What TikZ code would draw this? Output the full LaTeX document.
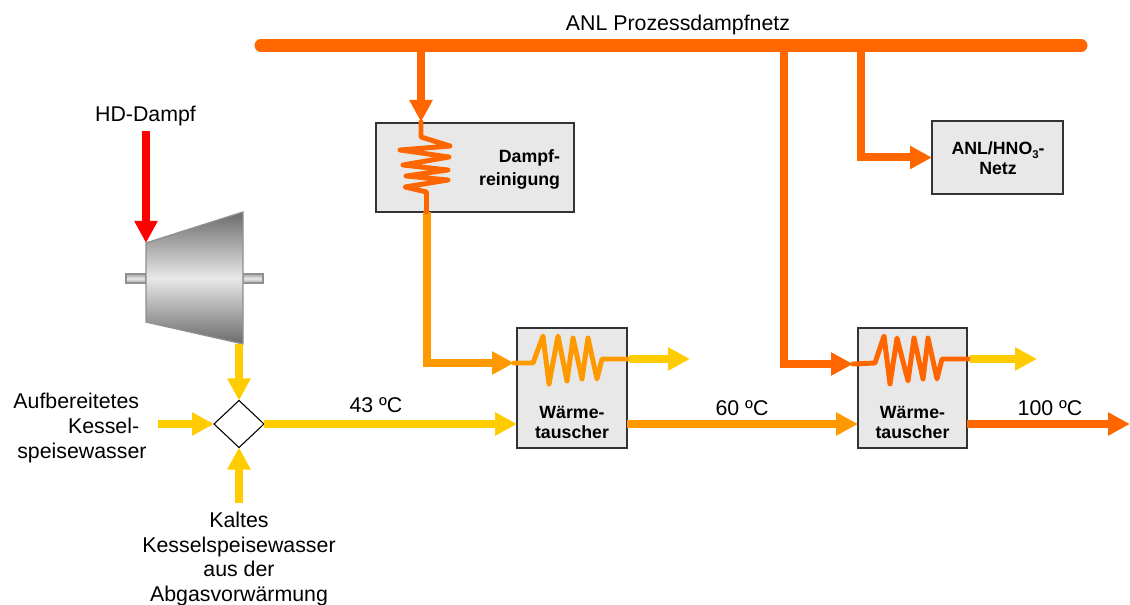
\documentclass[tikz,border=0pt]{standalone}
\usepackage{fontspec}
\setmainfont{Liberation Sans}
\usetikzlibrary{arrows.meta,shapes.geometric,calc}
\definecolor{hot}{HTML}{FF6600}
\definecolor{warm}{HTML}{FF9900}
\definecolor{cold}{HTML}{FFCC00}
\definecolor{boxfill}{HTML}{E8E8E8}
\definecolor{turbedge}{HTML}{909090}
\tikzset{
  pipe/.style={line width=6pt,-{Triangle[length=16.5pt,width=16.5pt]}},
  coilline/.style={line width=3.7pt,line join=round,line cap=round},
  unit/.style={draw=black!80,line width=.8pt,fill=boxfill,inner sep=0pt,outer sep=0pt},
  lbl/.style={font=\fontsize{16}{18.75}\selectfont,inner sep=0pt,outer sep=0pt},
  blbl/.style={font=\fontsize{13.3}{15.4}\selectfont\bfseries,inner sep=0pt,outer sep=0pt,text=black},
  shaft/.style={draw=turbedge,line width=.8pt,top color=turbedge!80,bottom color=turbedge!80,middle color=boxfill}
}
\begin{document}
\begin{tikzpicture}[x=0.75pt,y=-0.75pt]
\useasboundingbox (0,0) rectangle (1130,605);
% junction points
\coordinate (barL) at (261,45.5);
\coordinate (barR) at (1081,45.5);
\coordinate (b1) at (421,45.5);
\coordinate (b2) at (784,45.5);
\coordinate (b3) at (861,45.5);
\coordinate (c2in) at (853,364);
\coordinate (c1in) at (514,363);
\coordinate (c1out) at (628,359);
\coordinate (c2out) at (969,359);
\coordinate (o1) at (690,359);
\coordinate (o2) at (1037,359);
\coordinate (d0) at (421,122);
\coordinate (d1) at (426.5,212);
\coordinate (hdtop) at (146,131);
\coordinate (turbin) at (146,243);
\coordinate (turbout) at (239,344);
\coordinate (leftin) at (158,424);
\coordinate (botin) at (239,503);
\coordinate (end100) at (1130,424);
% boxes
\node[unit,minimum width=148.5pt,minimum height=66.75pt] (dr) at (475,167.5) {};
\node[unit,minimum width=98.25pt,minimum height=54.75pt] (anl) at (997.5,157.5) {};
\node[unit,minimum width=82.5pt,minimum height=90pt] (hx1) at (572,388) {};
\node[unit,minimum width=81.75pt,minimum height=90pt] (hx2) at (912.5,388) {};
\node[draw=black,line width=.8pt,fill=white,diamond,aspect=1,inner sep=0pt,outer sep=0pt,minimum width=37.5pt,minimum height=35.25pt] (mix) at (239,424) {};
% turbine
\draw[shaft] (126,274) rectangle (146,283);
\draw[shaft] (243,274) rectangle (263,283);
\draw[draw=turbedge,line width=1pt,top color=black!58,bottom color=black!58,middle color=boxfill] (146,243) -- (243,212) -- (243,344) -- (146,322) -- cycle;
% steam net
\draw[hot,line width=9.75pt,line cap=round] (barL) -- (barR);
\draw[pipe,hot] (b1) -- (d0);
\draw[pipe,hot] (b2) |- (c2in);
\draw[pipe,hot] (b3) |- (anl.west);
\draw[pipe,warm] (d1) |- (c1in);
% coils
\draw[coilline,hot] (d0) -- (421,137) -- (450,146) -- (400,150) -- (449,157) -- (403,165) -- (448,170) -- (406,176) -- (448,180) -- (405,187) -- (426.5,192) -- (d1);
\draw[coilline,warm] (c1in) -- (533,363) -- (543,336) -- (549,384) -- (558,336) -- (567,381) -- (573,338) -- (582,379) -- (588,338) -- (597,379) -- (602,359) -- (c1out);
\draw[coilline,hot] (c2in) -- (875,363) -- (884,336) -- (890,384) -- (897,338) -- (908,381) -- (914,338) -- (923,379) -- (928,338) -- (937,379) -- (942,359) -- (c2out);
% outlets
\draw[pipe,cold] (c1out) ++(1,0) -- (o1);
\draw[pipe,cold] (c2out) ++(1,0) -- (o2);
% feed water
\draw[pipe,red] (hdtop) -- (turbin);
\draw[pipe,cold] (turbout) -- (mix.north);
\draw[pipe,cold] (leftin) -- (mix.west);
\draw[pipe,cold] (botin) -- (mix.south);
\draw[pipe,cold] (mix.east) -- (hx1.west |- mix.east);
\draw[pipe,warm] (hx1.east |- mix.east) -- (hx2.west |- mix.east);
\draw[pipe,hot] (hx2.east |- mix.east) -- (end100 |- mix.east);
% texts
\node[lbl] (tnet) at (678,24.5) {ANL Prozessdampfnetz};
\node[lbl] (thd) at (145.5,115.5) {HD-Dampf};
\node[lbl] (t43) at (376,405.5) {43 ºC};
\node[lbl] (t60) at (742,408) {60 ºC};
\node[lbl] (t100) at (1050,408.5) {100 ºC};
\node[lbl,align=right,anchor=east] (tauf) at (146.5,428) {Aufbereitetes\kern5.5pt\\Kessel-\kern5.5pt\\speisewasser};
\node[lbl,font=\fontsize{16}{18.375}\selectfont,align=center,anchor=north] (tkalt) at (239,512.5) {Kaltes\\Kesselspeisewasser\\aus der\\Abgasvorwärmung};
\node[blbl,font=\fontsize{13.3}{17.25}\selectfont\bfseries,align=right,anchor=east] (tdr) at (560,169.5) {Dampf-\\reinigung};
\node[blbl,align=center] (tanl) at (998,158) {ANL/HNO\raisebox{-3pt}{\fontsize{8.5}{8.5}\selectfont 3}-\\Netz};
\node[blbl,align=center] (tw1) at (572,422.5) {Wärme-\\tauscher};
\node[blbl,align=center] (tw2) at (912.5,422.5) {Wärme-\\tauscher};
\end{tikzpicture}
\end{document}
